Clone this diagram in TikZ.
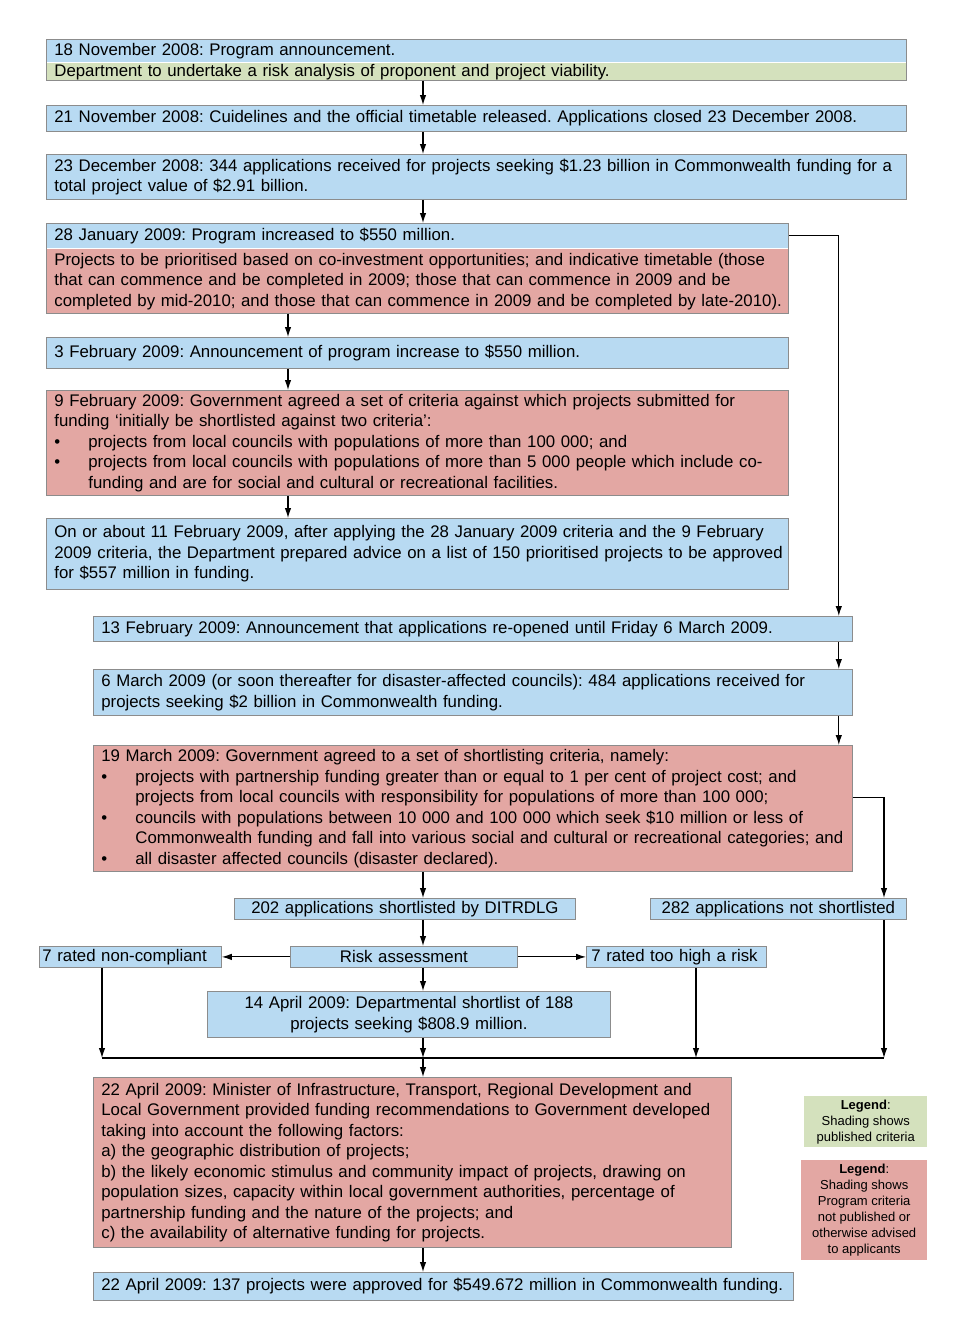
\documentclass[tikz,border=0pt]{standalone}
\usepackage{fontspec}
\setmainfont{Liberation Sans}
\usetikzlibrary{arrows.meta,positioning}
\definecolor{boxblue}{HTML}{B8DAF2}
\definecolor{boxpink}{HTML}{E3A7A3}
\definecolor{boxgreen}{HTML}{D4E1BD}
\definecolor{edgegray}{HTML}{8C8C8C}
\frenchspacing
\newcommand{\bodyfont}{\fontsize{16.8}{20.5}\selectfont}
\newcommand{\legfont}{\fontsize{13}{16}\selectfont}
\newcommand{\bul}{\makebox[34pt][l]{\textbullet}}
\newcommand{\ind}{\hspace*{34pt}}

\begin{document}
\begin{tikzpicture}[x=1pt,y=-1pt,
    box/.style={rectangle, draw=edgegray, line width=0.8pt, anchor=north west,
      align=left, inner xsep=8pt, inner ysep=0pt, font=\bodyfont},
    widebox/.style={box, execute at begin node={\rightskip=0pt minus 30pt\hyphenpenalty=10000}},
    fillonly/.style={widebox, draw=none},
    bluebox/.style={widebox, fill=boxblue},
    pinkbox/.style={widebox, fill=boxpink},
    smallbox/.style={box, fill=boxblue, minimum height=21pt, align=center},
    legendbox/.style={rectangle, anchor=north west, align=center, inner sep=0pt, font=\legfont},
    link/.style={-{Latex[length=10pt,width=6.5pt]}, line width=1.1pt}]
  \useasboundingbox (0,0) rectangle (969,1339);

  % first column of events
  \node[fillonly, fill=boxblue, text width=844pt, minimum height=23pt] (nov18) at (46,39)
    {18 November 2008: Program announcement.};
  \node[fillonly, fill=boxgreen, text width=844pt, minimum height=17pt, below=0pt of nov18] (nov18b)
    {Department to undertake a risk analysis of proponent and project viability.};
  \draw[edgegray, line width=0.8pt] (nov18.north west) rectangle (nov18b.south east);

  \node[bluebox, text width=844pt, minimum height=26pt] (nov21) at (46,105)
    {21 November 2008: Cuidelines and the official timetable released. Applications closed 23 December 2008.};
  \node[bluebox, text width=844pt, minimum height=45pt] (dec23) at (46,154)
    {23 December 2008: 344 applications received for projects seeking \$1.23 billion in Commonwealth funding for a\\
     total project value of \$2.91 billion.};

  \node[fillonly, fill=boxblue, text width=726pt, minimum height=25pt] (jan28) at (46,223)
    {28 January 2009: Program increased to \$550 million.};
  \node[fillonly, fill=boxpink, text width=726pt, minimum height=64pt, below=0pt of jan28] (jan28b)
    {Projects to be prioritised based on co-investment opportunities; and indicative timetable (those\\
     that can commence and be completed in 2009; those that can commence in 2009 and be\\
     completed by mid-2010; and those that can commence in 2009 and be completed by late-2010).};
  \draw[edgegray, line width=0.8pt] (jan28.north west) rectangle (jan28b.south east);

  \node[bluebox, text width=726pt, minimum height=31pt] (feb3) at (46,337)
    {3 February 2009: Announcement of program increase to \$550 million.};
  \node[pinkbox, text width=726pt, minimum height=105pt] (feb9) at (46,390)
    {9 February 2009: Government agreed a set of criteria against which projects submitted for\\
     funding `initially be shortlisted against two criteria':\\
     \bul projects from local councils with populations of more than 100 000; and\\
     \bul projects from local councils with populations of more than 5 000 people which include co-\\
     \ind funding and are for social and cultural or recreational facilities.};
  \node[bluebox, text width=726pt, minimum height=71pt] (feb11) at (46,518)
    {On or about 11 February 2009, after applying the 28 January 2009 criteria and the 9 February\\
     2009 criteria, the Department prepared advice on a list of 150 prioritised projects to be approved\\
     for \$557 million in funding.};

  % second column of events
  \node[bluebox, text width=743pt, minimum height=25pt] (feb13) at (93,616)
    {13 February 2009: Announcement that applications re-opened until Friday 6 March 2009.};
  \node[bluebox, text width=743pt, minimum height=46pt] (mar6) at (93,669)
    {6 March 2009 (or soon thereafter for disaster-affected councils): 484 applications received for\\
     projects seeking \$2 billion in Commonwealth funding.};
  \node[pinkbox, text width=743pt, minimum height=126pt] (mar19) at (93,745)
    {19 March 2009: Government agreed to a set of shortlisting criteria, namely:\\
     \bul projects with partnership funding greater than or equal to 1 per cent of project cost; and\\
     \ind projects from local councils with responsibility for populations of more than 100 000;\\
     \bul councils with populations between 10 000 and 100 000 which seek \$10 million or less of\\
     \ind Commonwealth funding and fall into various social and cultural or recreational categories; and\\
     \bul all disaster affected councils (disaster declared).};

  % shortlisting and risk assessment
  \node[smallbox, text width=325pt] (short) at (234,898) {202 applications shortlisted by DITRDLG};
  \node[smallbox, text width=240pt] (notshort) at (650,898) {282 applications not shortlisted};
  \node[smallbox, text width=176pt, inner xsep=3pt, align=left] (noncomp) at (39,946) {7 rated non-compliant};
  \node[smallbox, text width=211pt] (risk) at (290,946) {Risk assessment};
  \node[smallbox, text width=170pt, inner xsep=5pt, align=left] (highrisk) at (586,946) {7 rated too high a risk};
  \node[smallbox, text width=387pt, minimum height=46pt] (apr14) at (207,991)
    {14 April 2009: Departmental shortlist of 188\\ projects seeking \$808.9 million.};

  \node[pinkbox, text width=622pt, minimum height=170pt] (apr22) at (93,1077)
    {22 April 2009: Minister of Infrastructure, Transport, Regional Development and\\
     Local Government provided funding recommendations to Government developed\\
     taking into account the following factors:\\
     a) the geographic distribution of projects;\\
     b) the likely economic stimulus and community impact of projects, drawing on\\
     population sizes, capacity within local government authorities, percentage of\\
     partnership funding and the nature of the projects; and\\
     c) the availability of alternative funding for projects.};
  \node[bluebox, text width=684pt, minimum height=28pt] (approved) at (93,1272)
    {22 April 2009: 137 projects were approved for \$549.672 million in Commonwealth funding.};

  % legend
  \node[legendbox, fill=boxgreen, minimum width=123pt, minimum height=51pt] (leggreen) at (804,1096)
    {\textbf{Legend}:\\ Shading shows\\ published criteria};
  \node[legendbox, fill=boxpink, minimum width=126pt, minimum height=100pt] (legpink) at (801,1160)
    {\textbf{Legend}:\\ Shading shows\\ Program criteria\\ not published or\\ otherwise advised\\ to applicants};

  % connectors
  \coordinate (spine) at (423,0);
  \coordinate (spineb) at (288,0);
  \coordinate (join) at (423,1058);
  \coordinate (jl) at (102,1058);
  \coordinate (jm) at (696,1058);
  \coordinate (jr) at (884,1058);

  \draw[link] (nov18b.south -| spine) -- (nov21.north -| spine);
  \draw[link] (nov21.south -| spine) -- (dec23.north -| spine);
  \draw[link] (dec23.south -| spine) -- (jan28.north -| spine);
  \draw[link] (jan28b.south -| spineb) -- (feb3.north -| spineb);
  \draw[link] (feb3.south -| spineb) -- (feb9.north -| spineb);
  \draw[link] (feb9.south -| spineb) -- (feb11.north -| spineb);
  \draw[link] (jan28.east) -| ([xshift=-14pt]feb13.north east);
  \draw[link] ([xshift=-14pt]feb13.south east) -- ([xshift=-14pt]mar6.north east);
  \draw[link] ([xshift=-14pt]mar6.south east) -- ([xshift=-14pt]mar19.north east);
  \draw[link] (mar19.south -| spine) -- (short.north -| spine);
  \draw[link] ([yshift=11pt]mar19.east) -| (notshort.north -| jr);
  \draw[link] (short.south -| spine) -- (risk.north -| spine);
  \draw[link] (risk.west) -- (noncomp.east);
  \draw[link] (risk.east) -- (highrisk.west);
  \draw[link] (risk.south -| spine) -- (apr14.north -| spine);
  \draw[line width=1.1pt] (jl) -- (jr);
  \draw[link] (noncomp.south -| jl) -- (jl);
  \draw[link] (highrisk.south -| jm) -- (jm);
  \draw[link] (notshort.south -| jr) -- (jr);
  \draw[link] (apr14.south -| spine) -- (join);
  \draw[link] (join) -- (apr22.north -| spine);
  \draw[link] (apr22.south -| spine) -- (approved.north -| spine);
\end{tikzpicture}
\end{document}
